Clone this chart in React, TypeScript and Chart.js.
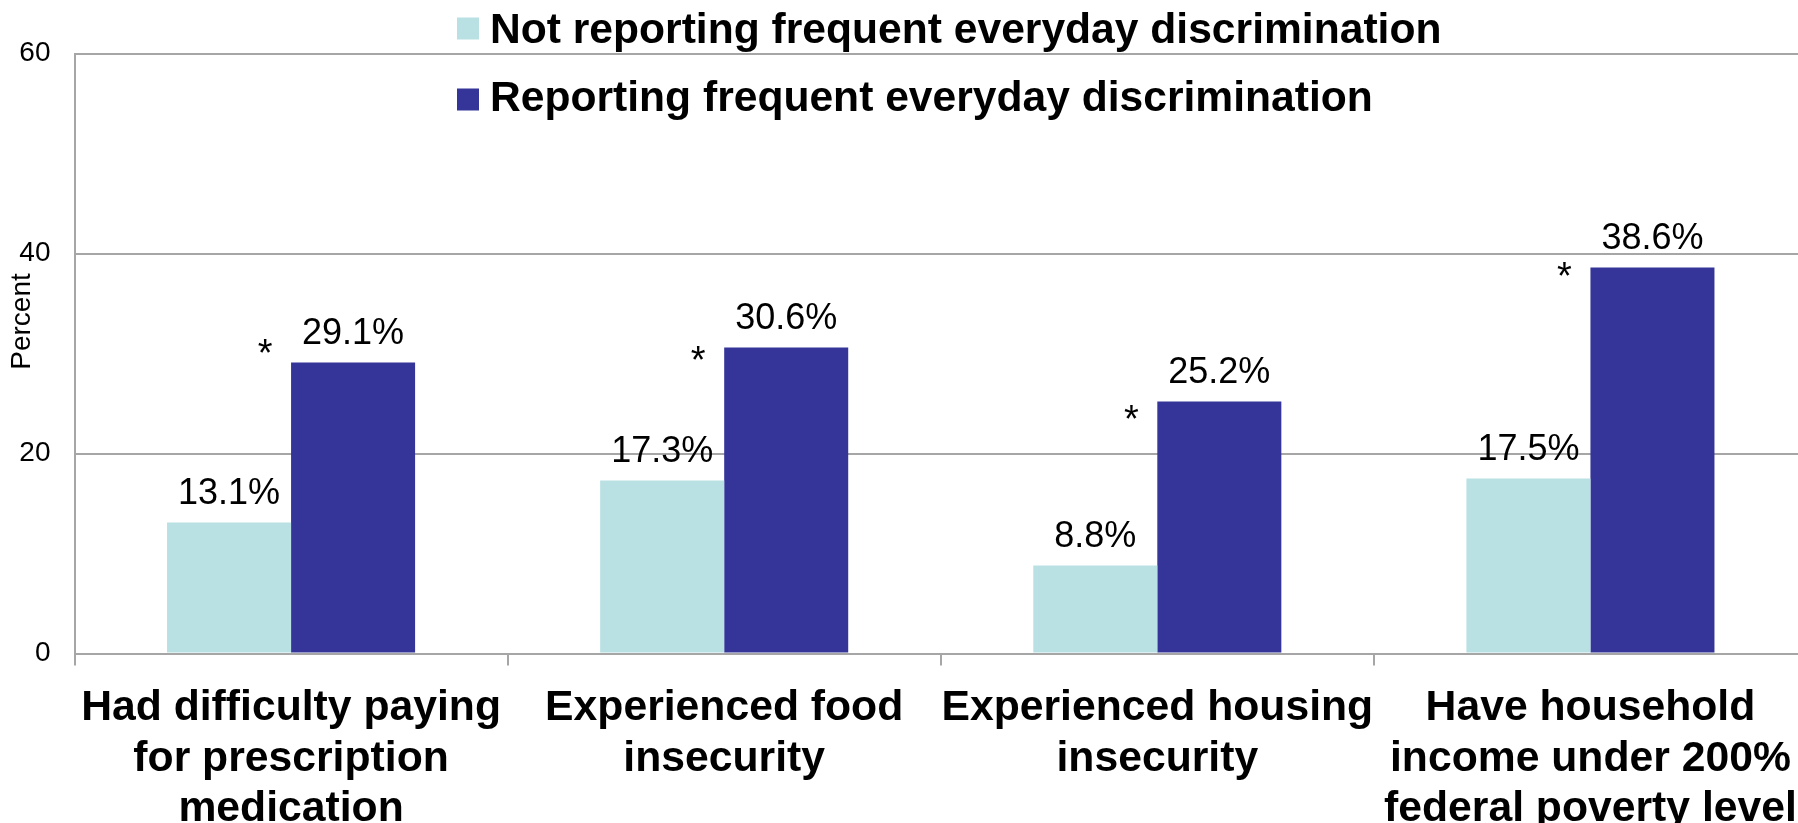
import React, { useEffect, useRef } from "react";
import { Chart, registerables } from "chart.js";

Chart.register(...registerables);

// ---- data ----
const categories: string[][] = [
  ["Had difficulty paying", "for prescription", "medication"],
  ["Experienced food", "insecurity"],
  ["Experienced housing", "insecurity"],
  ["Have household", "income under 200%", "federal poverty level"],
];
const seriesNames = [
  "Not reporting frequent everyday discrimination",
  "Reporting frequent everyday discrimination",
];
const notReporting = [13.1, 17.3, 8.8, 17.5];
const reporting = [29.1, 30.6, 25.2, 38.6];
// level (in percent units) at which the significance asterisk sits
const asteriskLevels = [31.0, 30.3, 24.4, 38.7];
const yTicks = [0, 20, 40, 60];
const yAxisTitle = "Percent";

const LIGHT = "#B9E0E3";
const DARK = "#353499";
const GRID = "#A6A6A6";
const FONT = "'Liberation Sans', Arial, Helvetica, sans-serif";

const W = 1807;
const H = 823;

const legendPlugin = {
  id: "customLegend",
  afterDraw(chart: any) {
    const ctx = chart.ctx;
    ctx.save();
    const colors = [LIGHT, DARK];
    seriesNames.forEach((name, i) => {
      const sy = 17.5 + i * 71;
      ctx.fillStyle = colors[i];
      ctx.fillRect(457, sy, 22, 22);
      ctx.fillStyle = "#000";
      ctx.font = `bold 42.6px ${FONT}`;
      ctx.textAlign = "left";
      ctx.textBaseline = "alphabetic";
      ctx.fillText(name, 490, 42.5 + i * 68.5);
    });
    ctx.restore();
  },
};

const labelsPlugin = {
  id: "barLabels",
  afterDatasetsDraw(chart: any) {
    const ctx = chart.ctx;
    ctx.save();
    chart.data.datasets.forEach((ds: any, di: number) => {
      const meta = chart.getDatasetMeta(di);
      meta.data.forEach((bar: any, i: number) => {
        const v = ds.data[i] as number;
        ctx.fillStyle = "#000";
        ctx.font = `36px ${FONT}`;
        ctx.textAlign = "center";
        ctx.textBaseline = "alphabetic";
        ctx.fillText(`${v.toFixed(1)}%`, bar.x, bar.y - 19);
        if (di === 1) {
          const ay = chart.scales.y.getPixelForValue(asteriskLevels[i]);
          const fs = 38;
          ctx.font = `${fs}px ${FONT}`;
          ctx.textBaseline = "alphabetic";
          // asterisk glyph centre sits ~0.58em above baseline
          ctx.fillText("*", bar.x - bar.width / 2 - 26, ay + 0.58 * fs);
        }
      });
    });
    ctx.restore();
  },
};

const yTitlePlugin = {
  id: "yTitle",
  afterDraw(chart: any) {
    const ctx = chart.ctx;
    ctx.save();
    ctx.translate(22.5, 321.5);
    ctx.rotate(-Math.PI / 2);
    ctx.fillStyle = "#000";
    ctx.font = `28px ${FONT}`;
    ctx.textAlign = "center";
    ctx.textBaseline = "middle";
    ctx.fillText(yAxisTitle, 0, 0);
    ctx.restore();
  },
};

export default function App() {
  const ref = useRef<HTMLCanvasElement | null>(null);

  useEffect(() => {
    document.documentElement.style.overflow = "hidden";
    document.body.style.margin = "0";
    document.body.style.overflow = "hidden";
    if (!ref.current) return;
    const chart = new Chart(ref.current, {
      type: "bar",
      data: {
        labels: categories,
        datasets: [
          {
            label: seriesNames[0],
            data: notReporting,
            backgroundColor: LIGHT,
            borderWidth: 0,
            categoryPercentage: 0.5727,
            barPercentage: 1,
          },
          {
            label: seriesNames[1],
            data: reporting,
            backgroundColor: DARK,
            borderWidth: 0,
            categoryPercentage: 0.5727,
            barPercentage: 1,
          },
        ],
      },
      options: {
        responsive: false,
        animation: false,
        devicePixelRatio: 1,
        layout: { padding: { top: 53.5, left: 0, right: 0, bottom: 0 } },
        plugins: {
          legend: { display: false },
          tooltip: { enabled: false },
          title: { display: false },
        },
        scales: {
          x: {
            type: "category",
            offset: true,
            grid: {
              offset: true,
              drawOnChartArea: false,
              drawTicks: true,
              tickLength: 12,
              color: GRID,
              lineWidth: 2,
            },
            border: { display: true, color: GRID, width: 2 },
            ticks: {
              autoSkip: false,
              maxRotation: 0,
              minRotation: 0,
              padding: 17,
              color: "#000",
              font: { family: FONT, size: 42.7, weight: "bold", lineHeight: 1.19 },
            },
            afterFit: (scale: any) => {
              scale.height = 169.4;
              scale.paddingLeft = 0;
              scale.paddingRight = 0;
            },
          },
          y: {
            min: 0,
            max: 60,
            afterBuildTicks: (scale: any) => {
              scale.ticks = yTicks.map((v) => ({ value: v }));
            },
            grid: {
              drawTicks: false,
              color: GRID,
              lineWidth: 2,
            },
            border: { display: true, color: GRID, width: 2 },
            ticks: {
              padding: 24,
              color: "#000",
              font: { family: FONT, size: 28 },
            },
            afterFit: (scale: any) => {
              scale.width = 74.5;
            },
          },
        },
      },
      plugins: [labelsPlugin, legendPlugin, yTitlePlugin],
    });
    return () => chart.destroy();
  }, []);

  return (
    <div style={{ width: W, height: H, background: "#fff" }}>
      <canvas ref={ref} width={W} height={H} style={{ display: "block" }} />
    </div>
  );
}
